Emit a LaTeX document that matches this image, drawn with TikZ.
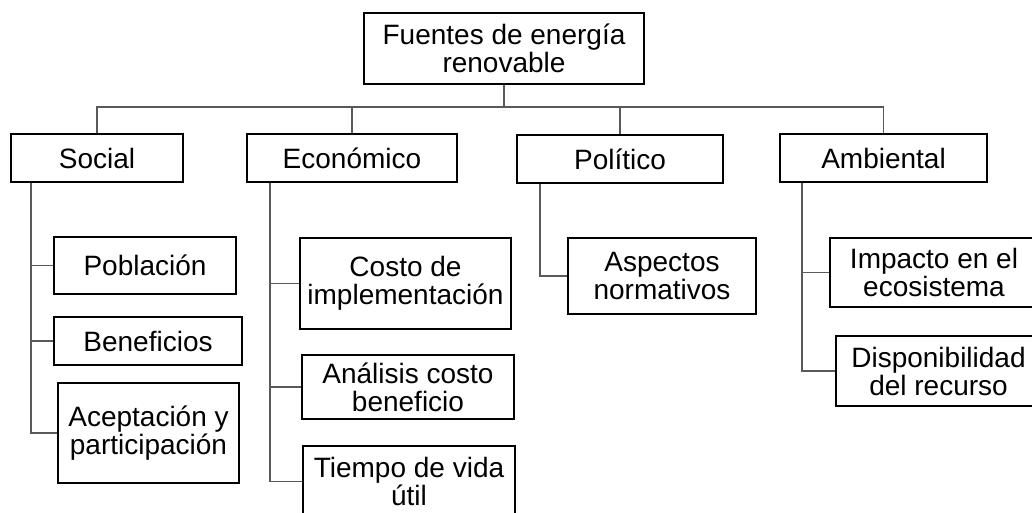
\documentclass[tikz,border=0pt]{standalone}
\usepackage{fontspec}
\setmainfont{Liberation Sans}
\begin{document}
\begin{tikzpicture}[x=1pt,y=-1pt,
  box/.style={draw=black,line width=2.4pt,fill=white,inner sep=0pt,align=center,
    font=\fontsize{28}{28}\selectfont},
  link/.style={draw=black!65,line width=1.4pt}]
\useasboundingbox[fill=white] (0,0) rectangle (1032,512);
\coordinate (bus) at (0,107);
\coordinate (sspine) at (31,0);
\coordinate (espine) at (270,0);
\coordinate (pspine) at (540,0);
\coordinate (aspine) at (802,0);
\begin{scope}
\clip (0,0) rectangle (1032,512);
\node[box,minimum width=280pt,minimum height=71pt] (root) at (504,48.5) {Fuentes de energía\\renovable};
\node[box,minimum width=172pt,minimum height=48pt] (social) at (97,158) {Social};
\node[box,minimum width=210pt,minimum height=48pt] (econ) at (352,158) {Económico};
\node[box,minimum width=206pt,minimum height=48pt] (poli) at (620,159) {Político};
\node[box,minimum width=207pt,minimum height=48pt] (amb) at (883.5,158) {Ambiental};

\node[box,minimum width=182pt,minimum height=57pt] (pobl) at (145,265.5) {Población};
\node[box,minimum width=188pt,minimum height=48pt] (bene) at (148,341) {Beneficios};
\node[box,minimum width=181pt,minimum height=100pt] (acep) at (148.5,433) {Aceptación y\\participación};

\node[box,minimum width=211pt,minimum height=91pt] (costo) at (405.5,283.5) {Costo de\\implementación};
\node[box,minimum width=212pt,minimum height=64pt] (anal) at (408,387) {Análisis costo\\beneficio};
\node[box,minimum width=212pt,minimum height=71pt] (tiempo) at (409,481.5) {Tiempo de vida\\útil};

\node[box,minimum width=188pt,minimum height=76pt] (asp) at (662,276) {Aspectos\\normativos};

\node[box,minimum width=208pt,minimum height=69pt] (imp) at (934,272.5) {Impacto en el\\ecosistema};
\node[box,minimum width=205pt,minimum height=70pt] (disp) at (938.5,371) {Disponibilidad\\del recurso};
\end{scope}

\draw[link] (root.south) -- (root.south |- bus);
\draw[link] (social.north) -- (social.north |- bus) -- (amb.north |- bus) -- (amb.north);
\draw[link] (econ.north) -- (econ.north |- bus);
\draw[link] (poli.north) -- (poli.north |- bus);

\draw[link] (social.south -| sspine) |- (acep.west);
\draw[link] (sspine |- pobl.west) -- (pobl.west);
\draw[link] (sspine |- bene.west) -- (bene.west);

\draw[link] (econ.south -| espine) |- (tiempo.west);
\draw[link] (espine |- costo.west) -- (costo.west);
\draw[link] (espine |- anal.west) -- (anal.west);

\draw[link] (poli.south -| pspine) |- (asp.west);

\draw[link] (amb.south -| aspine) |- (disp.west);
\draw[link] (aspine |- imp.west) -- (imp.west);
\end{tikzpicture}
\end{document}
